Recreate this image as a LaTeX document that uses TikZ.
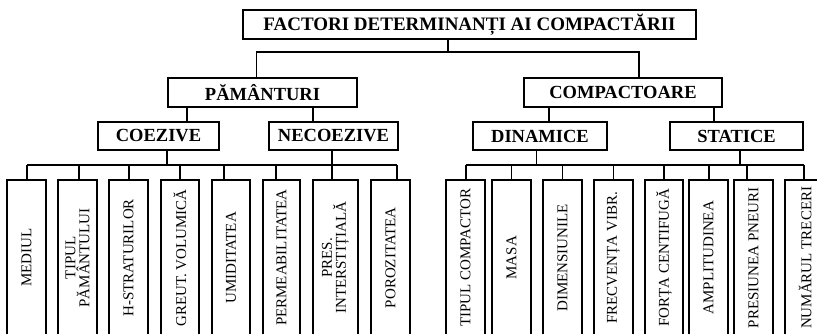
\documentclass[tikz,border=0pt]{standalone}
\usepackage{fontspec}
\setmainfont{Liberation Serif}
\usetikzlibrary{calc}

\begin{document}
\begin{tikzpicture}[x=1pt,y=1pt,line width=1.6pt,
  hdr/.style={draw,inner sep=0pt,minimum height=28pt,font=\bfseries\fontsize{18.5}{20}\selectfont},
  leafbox/.style={draw,rotate=90,anchor=east,inner sep=0pt,minimum width=156pt,minimum height=39pt,align=center,font=\fontsize{15}{14}\selectfont}]
\useasboundingbox (0,0) rectangle (817,-333);
\clip (0,0) rectangle (817,-333);
\node[hdr,minimum width=453pt,minimum height=29pt,font=\bfseries\fontsize{19}{21}\selectfont] (top) at (469.5,-24.5) {FACTORI DETERMINANȚI AI COMPACTĂRII};
\node[hdr,minimum width=189pt,minimum height=29pt] (pam) at (262.5,-92.5) {PĂMÂNTURI};
\node[hdr,minimum width=198pt,minimum height=29pt] (cmp) at (623,-92.5) {COMPACTOARE};
\node[hdr,minimum width=121pt] (cz) at (158.5,-136) {COEZIVE};
\node[hdr,minimum width=129pt] (ncz) at (333.5,-136) {NECOEZIVE};
\node[hdr,minimum width=134pt] (din) at (540,-136) {DINAMICE};
\node[hdr,minimum width=133pt] (sta) at (736.5,-136) {STATICE};
\node[leafbox] (l1) at (26.5,-179) {MEDIUL};
\node[leafbox] (l2) at (77.5,-179) {TIPUL\\PĂMÂNTULUI};
\node[leafbox] (l3) at (128.5,-179) {H-STRATURILOR};
\node[leafbox,minimum height=38pt] (l4) at (180,-179) {GREUT. VOLUMICĂ};
\node[leafbox,minimum height=38pt] (l5) at (231,-179) {UMIDITATEA};
\node[leafbox,minimum height=37pt] (l6) at (281.5,-179) {PERMEABILITATEA};
\node[leafbox,minimum height=45pt] (l7) at (335.5,-179) {PRES.\\INTERSTIȚIALĂ};
\node[leafbox] (l8) at (390.5,-179) {POROZITATEA};
\node[leafbox] (r1) at (465.5,-179) {TIPUL COMPACTOR};
\node[leafbox] (r2) at (511.5,-179) {MASA};
\node[leafbox] (r3) at (562.5,-179) {DIMENSIUNILE};
\node[leafbox] (r4) at (613.5,-179) {FRECVENȚA VIBR.};
\node[leafbox,minimum height=38pt] (r5) at (664,-179) {FORȚA CENTIFUGĂ};
\node[leafbox] (r6) at (708.5,-179) {AMPLITUDINEA};
\node[leafbox] (r7) at (753.5,-179) {PRESIUNEA PNEURI};
\node[leafbox,minimum height=40pt] (r8) at (805,-179) {NUMĂRUL TRECERI};
\draw ([xshift=-21.5pt]top.south) -- ++(0,-12) coordinate (b0);
\draw ([xshift=-6pt]pam.north) |- (b0) -| ([xshift=16pt]cmp.north);
\draw ([xshift=-75.5pt]pam.south) coordinate (s1) -- (s1 |- cz.north);
\draw ([xshift=50.5pt]pam.south) coordinate (s2) -- (s2 |- ncz.north);
\draw ([xshift=-74pt]cmp.south) coordinate (s3) -- (s3 |- din.north);
\draw ([xshift=91pt]cmp.south) coordinate (s4) -- (s4 |- sta.north);
\draw ([xshift=8.5pt]cz.south) -- ++(0,-15);
\draw ([xshift=-1.5pt]ncz.south) -- ++(0,-15);
\draw ([xshift=-3.5pt]din.south) -- ++(0,-15);
\draw ([xshift=3.5pt]sta.south) -- ++(0,-15);
\foreach \n/\d in {l1/0.5,l2/1.5,l3/0.5,l4/0,l5/-7,l6/-5.5,l7/-3.5,l8/6.5,r1/0.5,r2/0,r3/0,r4/0,r5/0,r6/0.5,r7/-6.5,r8/-1} {\draw ([xshift=\d pt]\n.east) -- ++(0,14);}
\draw ($(l1.east)+(0.5,14)$) -- ($(l8.east)+(6.5,14)$);
\draw ($(r1.east)+(0.5,14)$) -- ($(r8.east)+(-1,14)$);
\end{tikzpicture}
\end{document}
